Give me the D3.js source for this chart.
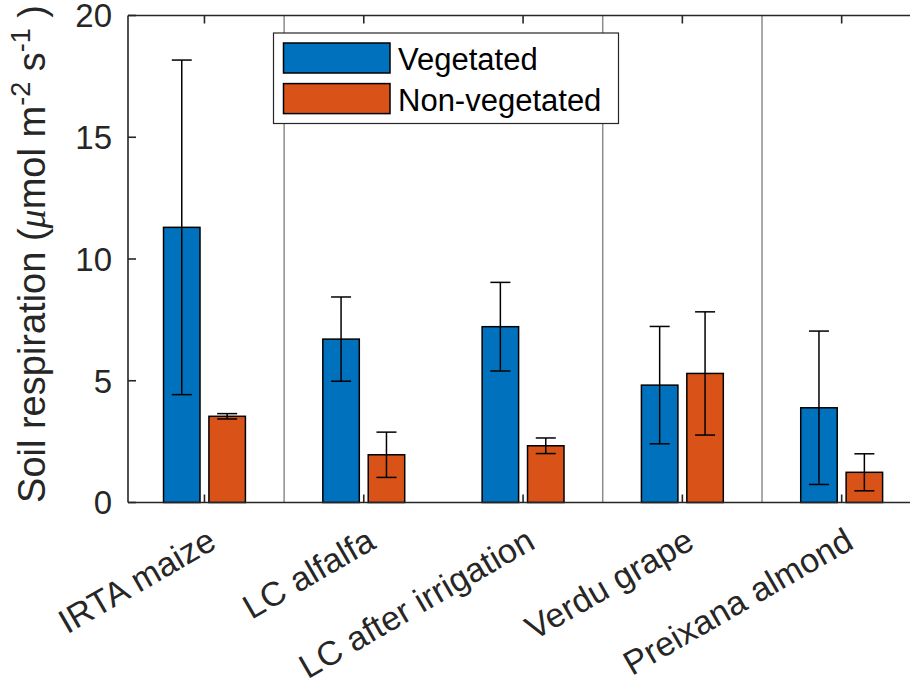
<!DOCTYPE html>
<html>
<head>
<meta charset="utf-8">
<script src="https://cdn.jsdelivr.net/npm/d3@7"></script>
<style>
  body { margin: 0; background: #fff; }
  svg { display: block; font-family: "Liberation Sans", Arial, Helvetica, sans-serif; }
</style>
</head>
<body>
<div id="chart"></div>
<script>
const sites = ["IRTA maize", "LC alfalfa", "LC after irrigation", "Verdu grape", "Preixana almond"];
const seriesNames = ["Vegetated", "Non-vegetated"];
const vegMean = [11.30, 6.71, 7.22, 4.82, 3.89];
const vegErr = [6.87, 1.73, 1.82, 2.41, 3.15];
const nonMean = [3.54, 1.96, 2.33, 5.30, 1.24];
const nonErr = [0.11, 0.93, 0.32, 2.53, 0.76];
const yTicks = [0, 5, 10, 15, 20];
const separators = [1.5, 3.5, 4.5];

const W = 910, H = 681;
const colors = ["#0072BD", "#D95319"];
const axisColor = "#262626";

const svg = d3.select("#chart").append("svg")
    .attr("width", W)
    .attr("height", H);

const x = d3.scaleLinear().domain([0.52, 5.52]).range([128, 128 + 5 * 159.3]);
const y = d3.scaleLinear().domain([0, 20]).range([502.5, 15.5]);

const barW = 0.229;
const offsets = [-0.1425, 0.1425];

// vertical separators between sites
svg.selectAll(".sep")
    .data(separators)
    .enter().append("line")
    .attr("x1", d => x(d)).attr("x2", d => x(d))
    .attr("y1", y(20)).attr("y2", y(0))
    .attr("stroke", "#8c8c8c")
    .attr("stroke-width", 1.5);

const series = [
    sites.map((s, i) => ({i, v: vegMean[i], e: vegErr[i]})),
    sites.map((s, i) => ({i, v: nonMean[i], e: nonErr[i]}))
];

series.forEach((data, k) => {
    const g = svg.append("g");
    g.selectAll("rect")
        .data(data)
        .enter().append("rect")
        .attr("x", d => x(d.i + 1 + offsets[k] - barW / 2))
        .attr("width", d => x(d.i + 1 + barW) - x(d.i + 1))
        .attr("y", d => y(d.v))
        .attr("height", d => y(0) - y(d.v))
        .attr("fill", colors[k])
        .attr("stroke", "#000")
        .attr("stroke-width", 1.5);

    const eb = g.selectAll(".err")
        .data(data)
        .enter().append("g")
        .attr("class", "err")
        .attr("stroke", "#000")
        .attr("stroke-width", 1.5);
    const cx = d => x(d.i + 1 + offsets[k]);
    eb.append("line")
        .attr("x1", cx).attr("x2", cx)
        .attr("y1", d => y(d.v - d.e)).attr("y2", d => y(d.v + d.e));
    eb.append("line")
        .attr("x1", d => cx(d) - 10).attr("x2", d => cx(d) + 10)
        .attr("y1", d => y(d.v + d.e)).attr("y2", d => y(d.v + d.e));
    eb.append("line")
        .attr("x1", d => cx(d) - 10).attr("x2", d => cx(d) + 10)
        .attr("y1", d => y(d.v - d.e)).attr("y2", d => y(d.v - d.e));
});

// axes box
const xr = x(5.52);
svg.append("path")
    .attr("d", `M${x(0.52)},${y(0)}H${xr}M${x(0.52)},${y(20)}H${xr}M${x(0.52)},${y(0)}V${y(20)}`)
    .attr("fill", "none")
    .attr("stroke", axisColor)
    .attr("stroke-width", 1.6);

// inward ticks
const tickLen = 8;
svg.append("g").selectAll("line")
    .data(yTicks)
    .enter().append("line")
    .attr("x1", x(0.52)).attr("x2", x(0.52) + tickLen)
    .attr("y1", d => y(d)).attr("y2", d => y(d))
    .attr("stroke", axisColor).attr("stroke-width", 1.6);

const xt = svg.append("g");
sites.forEach((s, i) => {
    xt.append("line")
        .attr("x1", x(i + 1)).attr("x2", x(i + 1))
        .attr("y1", y(0)).attr("y2", y(0) - tickLen)
        .attr("stroke", axisColor).attr("stroke-width", 1.6);
    xt.append("line")
        .attr("x1", x(i + 1)).attr("x2", x(i + 1))
        .attr("y1", y(20)).attr("y2", y(20) + tickLen)
        .attr("stroke", axisColor).attr("stroke-width", 1.6);
});

// y tick labels
svg.append("g").selectAll("text")
    .data(yTicks)
    .enter().append("text")
    .attr("x", 112)
    .attr("y", d => y(d))
    .attr("dy", "0.36em")
    .attr("text-anchor", "end")
    .attr("fill", axisColor)
    .style("font-size", "33px")
    .text(d => d);

// x tick labels, rotated
svg.append("g").selectAll("text")
    .data(sites)
    .enter().append("text")
    .attr("transform", (d, i) => `translate(${x(i + 1) + 2},${y(0) + 24}) rotate(-30)`)
    .attr("text-anchor", "end")
    .attr("dy", "0.7em")
    .attr("fill", axisColor)
    .style("font-size", "34px")
    .style("letter-spacing", "0.2px")
    .text(d => d);

// y axis label
const yl = svg.append("text")
    .attr("transform", `translate(45,254) rotate(-90)`)
    .attr("text-anchor", "middle")
    .attr("fill", axisColor)
    .style("font-size", "38px");
yl.append("tspan").text("Soil respiration (");
yl.append("tspan").style("font-style", "italic").style("font-family", "'Liberation Serif', 'Times New Roman', serif").text("\u03bc");
yl.append("tspan").text("mol m");
yl.append("tspan").attr("dy", -15).style("font-size", "27px").text("-2");
yl.append("tspan").attr("dy", 15).text(" s");
yl.append("tspan").attr("dy", -15).style("font-size", "27px").text("-1");
yl.append("tspan").attr("dy", 15).text(" )");

// legend
const lg = svg.append("g");
lg.append("rect")
    .attr("x", 273.5).attr("y", 33)
    .attr("width", 345).attr("height", 90.5)
    .attr("fill", "#fff")
    .attr("stroke", axisColor)
    .attr("stroke-width", 1.2);
seriesNames.forEach((name, k) => {
    lg.append("rect")
        .attr("x", 283.5).attr("y", 43 + k * 40.6)
        .attr("width", 106.5).attr("height", 30)
        .attr("fill", colors[k])
        .attr("stroke", "#000")
        .attr("stroke-width", 1.5);
    lg.append("text")
        .attr("x", 398).attr("y", 70 + k * 40.7)
        .attr("fill", "#000")
        .style("font-size", "31px")
        .text(name);
});
</script>
</body>
</html>
